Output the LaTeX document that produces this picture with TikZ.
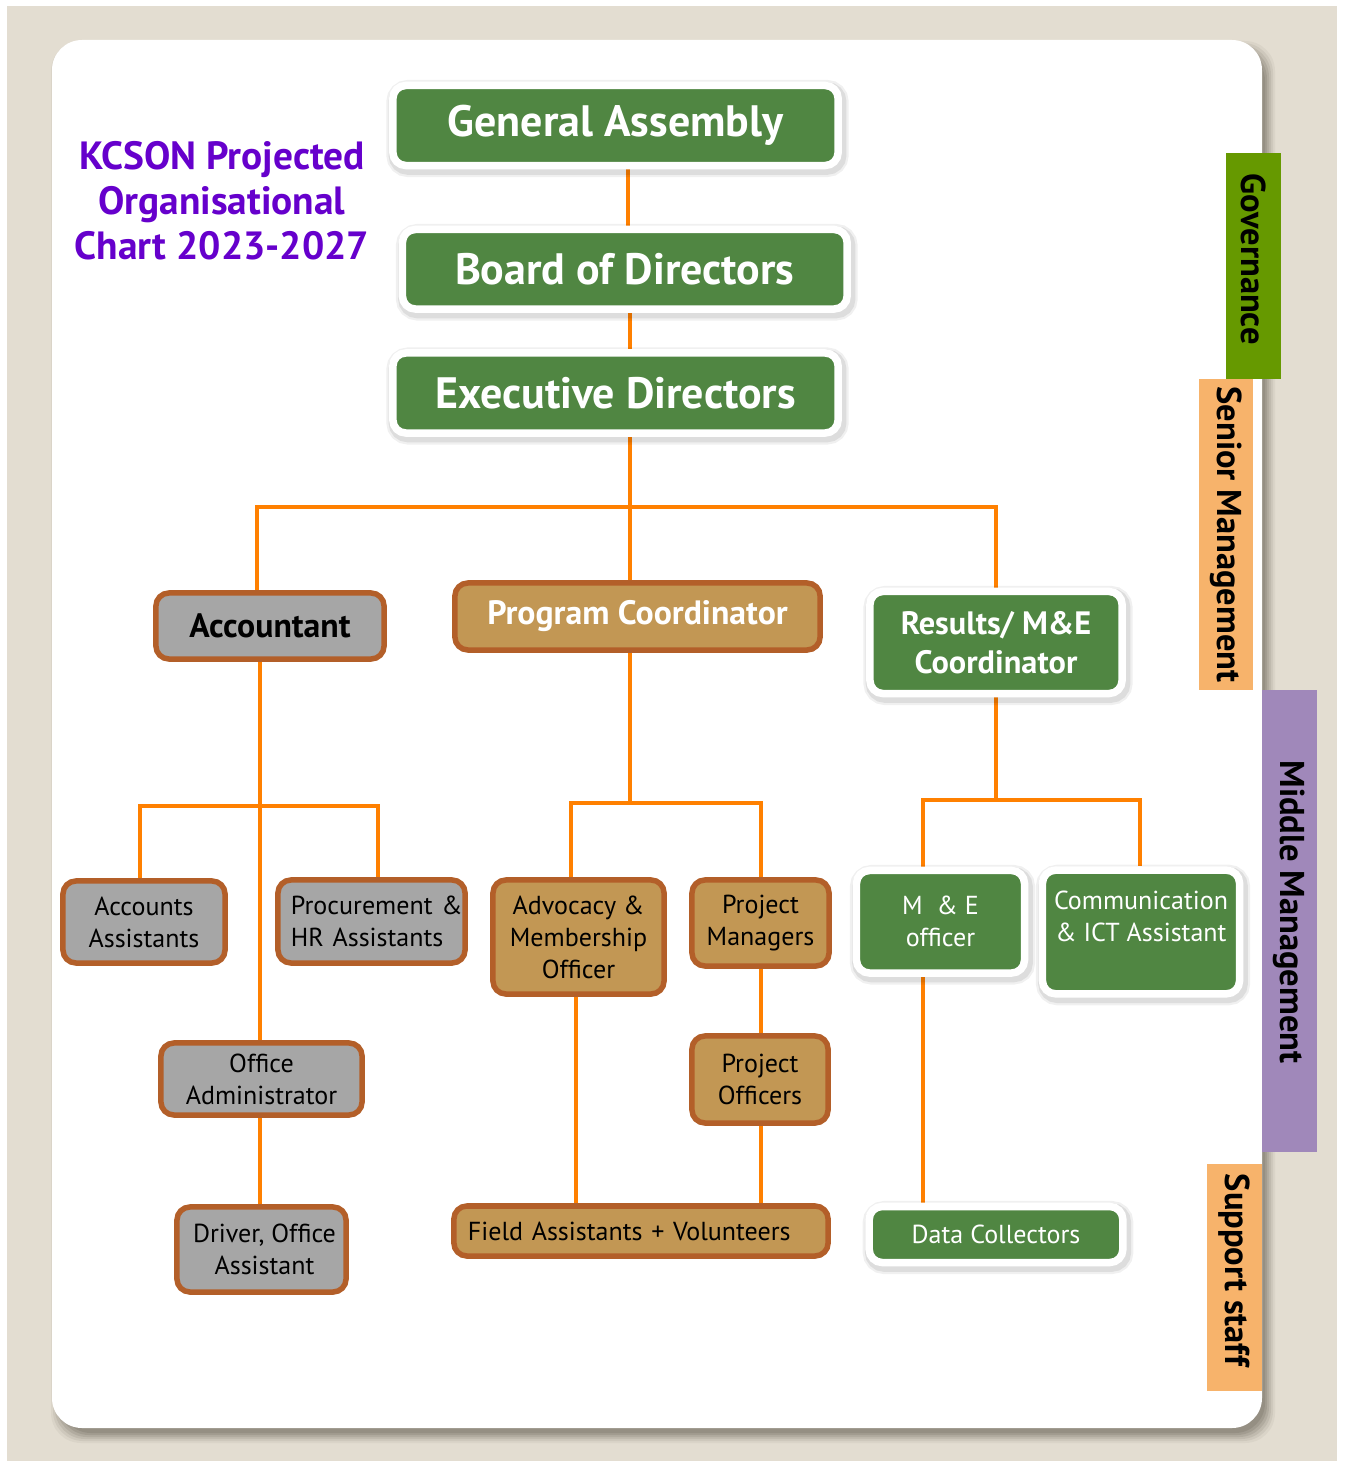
\documentclass[tikz,border=0pt]{standalone}
\usepackage{fontspec}
\setmainfont{PT Sans}
\usetikzlibrary{calc}
\pgfdeclarelayer{back}
\pgfdeclarelayer{bg}
\pgfsetlayers{back,bg,main}
\definecolor{beige}{HTML}{E3DDD1}
\definecolor{gfill}{HTML}{508642}
\definecolor{grayfill}{HTML}{A6A6A6}
\definecolor{tanfill}{HTML}{C29754}
\definecolor{bstroke}{HTML}{B35F29}
\definecolor{conncol}{HTML}{FF8000}
\definecolor{titlecol}{HTML}{6600CC}
\definecolor{govcol}{HTML}{669900}
\definecolor{peach}{HTML}{F7B36B}
\definecolor{lilac}{HTML}{A088BA}
\definecolor{shadowcol}{HTML}{3A342A}
\begin{document}
\begin{tikzpicture}[x=0.01cm,y=-0.01cm,
  gbox/.style={draw=white, line width=0.075cm, fill=gfill, rounded corners=0.13cm,
    text=white, align=center, inner sep=0pt,
    preaction={draw=black, draw opacity=0.06, line width=0.17cm,
      transform canvas={shift={(0.02cm,-0.03cm)}}},
    preaction={draw=black, draw opacity=0.08, line width=0.125cm,
      transform canvas={shift={(0.02cm,-0.03cm)}}}},
  bbox/.style={draw=bstroke, line width=0.055cm, rounded corners=0.13cm,
    inner sep=0pt, align=center, text=black},
  gray/.style={bbox, fill=grayfill},
  tan/.style={bbox, fill=tanfill},
  big/.style={font=\bfseries\fontsize{12.5}{15}\selectfont},
  mid/.style={font=\bfseries\fontsize{9.6}{11.1}\selectfont},
  reg/.style={font=\fontsize{7.4}{9.1}\selectfont},
  tab/.style={rotate=-90, inner sep=0pt, font=\bfseries\fontsize{9.8}{11}\selectfont, text=black},
  conn/.style={draw=conncol, line width=0.045cm}]
\useasboundingbox (0,0) rectangle (1344,1461);

% title
\node[font=\bfseries\fontsize{11.2}{12.8}\selectfont, text=titlecol, align=center] (title) at (222,201)
  {KCSON Projected\\Organisational\\Chart 2023-2027};

% governance
\node[gbox, big, minimum width=4.45cm, minimum height=0.80cm] (GA) at (615.5,125.5) {General Assembly};
\node[gbox, big, minimum width=4.445cm, minimum height=0.795cm] (BD) at (624.75,269.25) {Board of Directors};
\node[gbox, big, minimum width=4.45cm, minimum height=0.80cm] (ED) at (615.5,393) {Executive Directors};

% senior management
\node[gray, mid, minimum width=2.28cm, minimum height=0.66cm] (AC) at (270,626) {Accountant};
\node[tan, mid, text=white, minimum width=3.65cm, minimum height=0.67cm] (PC) at (637.5,616.5) {Program Coordinator};
\node[gbox, mid, font=\bfseries\fontsize{9.2}{11.1}\selectfont, minimum width=2.52cm, minimum height=1.02cm] (RC) at (996,642.5) {Results/ M\&E\\Coordinator};

% middle management
\node[gray, reg, minimum width=1.62cm, minimum height=0.82cm] (AA) at (144,922) {Accounts\\Assistants};
\node[gray, reg, text width=1.61cm, inner xsep=0.13cm, align=left, minimum height=0.83cm] (PR) at (371.5,921.5) {\mbox{Procurement \&}\\\mbox{HR Assistants}};
\node[gray, reg, minimum width=2.01cm, minimum height=0.72cm] (OA) at (261.5,1079) {Office\\Administrator};
\node[gray, reg, minimum width=1.69cm, minimum height=0.85cm] (DR) at (261.5,1249.5) {\hspace*{0.06cm}Driver, Office\\\hspace*{0.06cm}Assistant};
\node[tan, reg, minimum width=1.71cm, minimum height=1.14cm] (AM) at (578.5,937) {Advocacy \&\\Membership\\Officer};
\node[tan, reg, minimum width=1.37cm, minimum height=0.86cm] (PM) at (760.5,923) {Project\\Managers};
\node[tan, reg, minimum width=1.36cm, minimum height=0.87cm] (PO) at (760,1079.5) {Project\\Officers};
\node[tan, reg, text width=3.46cm, inner xsep=0.14cm, align=left, minimum height=0.50cm] (FA) at (641,1231) {Field Assistants + Volunteers};
\node[gbox, reg, minimum width=1.68cm, minimum height=1.025cm] (ME) at (940.5,921.75) {M~~\& E\\officer};
\node[gbox, reg, minimum width=1.97cm, minimum height=1.235cm] (CI) at (1141,932) {Communication\\\& ICT Assistant\\\mbox{}};
\node[gbox, reg, minimum width=2.535cm, minimum height=0.56cm] (DC) at (996,1234.5) {Data Collectors};

% side tabs
\node[tab, fill=govcol, minimum width=2.26cm, minimum height=0.55cm] (tgov) at (1253.5,266) {Governance\hspace*{0.14cm}};
\node[tab, fill=peach, minimum width=3.11cm, minimum height=0.54cm] (tsen) at (1226,534.5) {Senior Management};
\node[tab, fill=lilac, minimum width=4.62cm, minimum height=0.55cm] (tmid) at (1289.5,921) {Middle Management\hspace*{0.18cm}};
\node[tab, fill=peach, minimum width=2.27cm, minimum height=0.55cm] (tsup) at (1234.5,1277.5) {Support staff\hspace*{0.15cm}};

% background and card
\begin{pgfonlayer}{back}
\fill[beige] (7,6) rectangle (1337,1461);
\foreach \e/\o in {7/0.05,5/0.07,3/0.09,1/0.11,-1/0.12,-3/0.12}{
  \fill[shadowcol, opacity=\o, rounded corners=0.3cm]
    (52+6-\e,40+8-\e) rectangle (1262+6+\e,1428+8+\e);
}
\fill[white, rounded corners=0.3cm] (52,40) rectangle (1262,1428);
\end{pgfonlayer}

% connector coordinates
\coordinate (x628) at (628,0);
\coordinate (jT) at (630,507);
\coordinate (aL) at (257,507);
\coordinate (aR) at (996,507);
\coordinate (aJ) at (260,806);
\coordinate (aJL) at (140,806);
\coordinate (aJR) at (378,806);
\coordinate (pJ) at (630,803);
\coordinate (pL) at (571,803);
\coordinate (pR) at (761,803);
\coordinate (fL) at (576,0);
\coordinate (rJ) at (996,800);
\coordinate (rL) at (923,800);
\coordinate (rR) at (1140,800);

\begin{pgfonlayer}{bg}
\draw[conn] (GA.south -| x628) -- (BD.north -| x628);
\draw[conn] (BD.south -| jT) -- (ED.north -| jT);
\draw[conn] (ED.south -| jT) -- (jT);
\draw[conn] (AC.north -| aL) -- (aL) -- (aR) -- (RC.north -| aR);
\draw[conn] (jT) -- (PC.north -| jT);
% accountant branch
\draw[conn] (AC.south -| aJ) -- (OA.north -| aJ);
\draw[conn] (AA.north -| aJL) -- (aJL) -- (aJR) -- (PR.north -| aJR);
\draw[conn] (OA.south -| aJ) -- (DR.north -| aJ);
% program branch
\draw[conn] (PC.south -| pJ) -- (pJ);
\draw[conn] (AM.north -| pL) -- (pL) -- (pR) -- (PM.north -| pR);
\draw[conn] (PM.south -| pR) -- (PO.north -| pR);
\draw[conn] (PO.south -| pR) -- (FA.north -| pR);
\draw[conn] (AM.south -| fL) -- (FA.north -| fL);
% results branch
\draw[conn] (RC.south -| rJ) -- (rJ);
\draw[conn] (ME.north -| rL) -- (rL) -- (rR) -- (CI.north -| rR);
\draw[conn] (ME.south -| rL) -- (DC.north -| rL);
\end{pgfonlayer}
\end{tikzpicture}
\end{document}
